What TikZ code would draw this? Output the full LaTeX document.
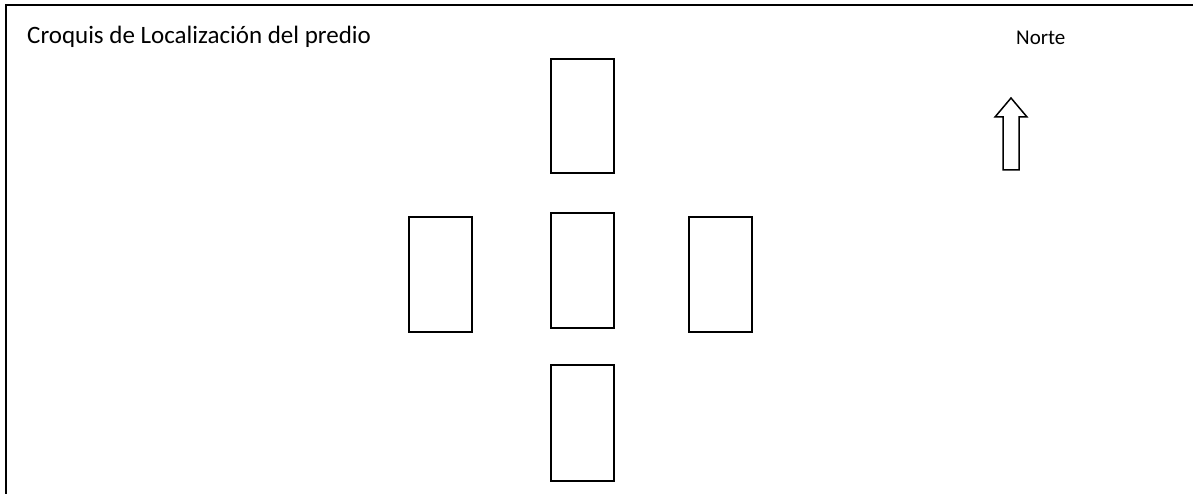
\documentclass[tikz,border=0pt]{standalone}
\usepackage{fontspec}
\setmainfont{Carlito}
\begin{document}
\begin{tikzpicture}[x=1bp,y=-1bp,
  lot/.style={draw=black,line width=2.2bp,fill=white},
  frame/.style={draw=black,line width=2.4bp},
  lbl/.style={inner sep=0pt,anchor=base west}]
\useasboundingbox (0,0) rectangle (1193,494);
\draw[frame] (6,494) -- (6,5) -- (1193,5);
\node[lbl,font=\fontsize{25bp}{28bp}\selectfont] (title) at (27,44) {Croquis de Localización del predio};
\node[lbl,font=\fontsize{21bp}{24bp}\selectfont] (norte) at (1016,45) {Norte};
\draw[lot] (551,59) rectangle (614,173);
\draw[lot] (409,217) rectangle (472,332);
\draw[lot] (551,213) rectangle (614,328);
\draw[lot] (689,217) rectangle (752,332);
\draw[lot] (551,365) rectangle (614,481);
\draw[draw=black,line width=1.5bp,line join=miter] (1011,98) -- (1027,117) -- (1019,117) -- (1019,170) -- (1003,170) -- (1003,117) -- (995,117) -- cycle;
\end{tikzpicture}
\end{document}
